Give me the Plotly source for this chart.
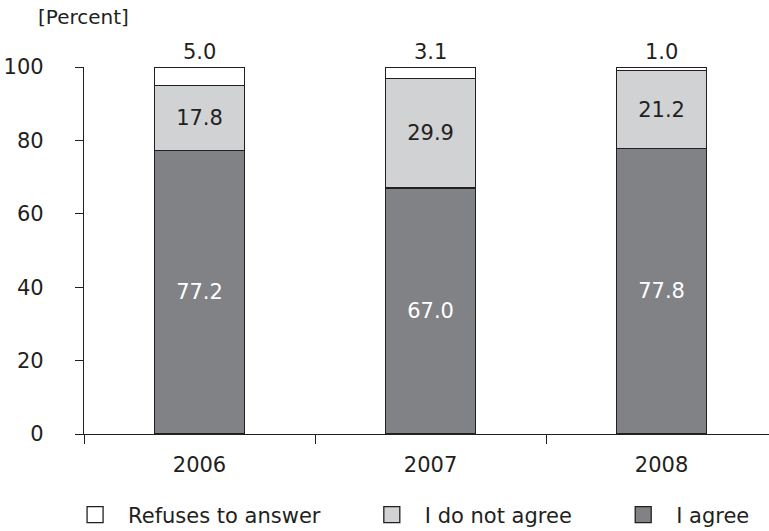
import plotly.graph_objects as go

years = ["2006", "2007", "2008"]
agree = [77.2, 67.0, 77.8]
not_agree = [17.8, 29.9, 21.2]
refuses = [5.0, 3.1, 1.0]
series_names = ["Refuses to answer", "I do not agree", "I agree"]
y_ticks = [0, 20, 40, 60, 80, 100]

DARK = "#231f20"
C_AGREE = "#818285"
C_NOT = "#d1d2d4"
C_REF = "#ffffff"
FONT = "DejaVu Sans"
PAD = "\u00a0" * 5  # extra spacing between legend entries

fig = go.Figure()

def fmt(v):
    return f"{v:.1f}"

fig.add_trace(go.Bar(x=years, y=agree, marker=dict(color=C_AGREE, line=dict(color=DARK, width=1.3)),
                     text=[fmt(v) for v in agree], textposition="inside", insidetextanchor="middle",
                     textangle=0, textfont=dict(color="white", size=21, family=FONT),
                     constraintext="none", showlegend=False, width=0.39, hoverinfo="skip"))
fig.add_trace(go.Bar(x=years, y=not_agree, marker=dict(color=C_NOT, line=dict(color=DARK, width=1.3)),
                     text=[fmt(v) for v in not_agree], textposition="inside", insidetextanchor="middle",
                     textangle=0, textfont=dict(color=DARK, size=21, family=FONT),
                     constraintext="none", showlegend=False, width=0.39, hoverinfo="skip"))
fig.add_trace(go.Bar(x=years, y=refuses, marker=dict(color=C_REF, line=dict(color=DARK, width=1.3)),
                     showlegend=False, width=0.39, hoverinfo="skip"))

# legend entries
colors = [C_REF, C_NOT, C_AGREE]
for k, (name, col) in enumerate(zip(series_names, colors)):
    label = name + (PAD if k < len(series_names) - 1 else "")
    fig.add_trace(go.Scatter(x=[None], y=[None], mode="markers", name=label,
                             marker=dict(symbol="square", size=20, color=col,
                                         line=dict(color=DARK, width=1.3))))

totals = [a + b + c for a, b, c in zip(agree, not_agree, refuses)]
for i, (tot, r) in enumerate(zip(totals, refuses)):
    fig.add_annotation(x=i, y=tot, xref="x", yref="y", text=fmt(r), showarrow=False,
                       yanchor="bottom", yshift=1,
                       font=dict(size=21, color=DARK, family=FONT))

fig.update_layout(
    barmode="stack",
    width=769, height=531,
    margin=dict(l=84, r=0, t=67, b=97, autoexpand=False),
    paper_bgcolor="white", plot_bgcolor="white",
    font=dict(family=FONT, size=21, color=DARK),
    title=dict(text="[Percent]", x=38 / 769, xanchor="left", xref="container",
               y=1 - 17 / 531, yanchor="middle", yref="container",
               font=dict(size=20, color=DARK, family=FONT)),
    legend=dict(orientation="h", x=-0.032, xanchor="left", y=-0.165, yanchor="top",
                itemwidth=56, traceorder="normal",
                font=dict(size=21, color=DARK, family=FONT),
                bgcolor="rgba(0,0,0,0)"),
    xaxis=dict(type="category", range=[-0.5, 2.465], tickson="boundaries",
               ticks="outside", ticklen=9, tickwidth=1.3, tickcolor=DARK,
               showline=True, linecolor=DARK, linewidth=1.3, showgrid=False,
               ticklabelstandoff=12, fixedrange=True),
    yaxis=dict(range=[0, 100], tickvals=y_ticks, ticks="outside", ticklen=8, tickwidth=1.3,
               tickcolor=DARK, showline=True, linecolor=DARK, linewidth=1.3,
               showgrid=False, zeroline=False, ticklabelstandoff=27, fixedrange=True),
)

fig.write_html("out.html")
